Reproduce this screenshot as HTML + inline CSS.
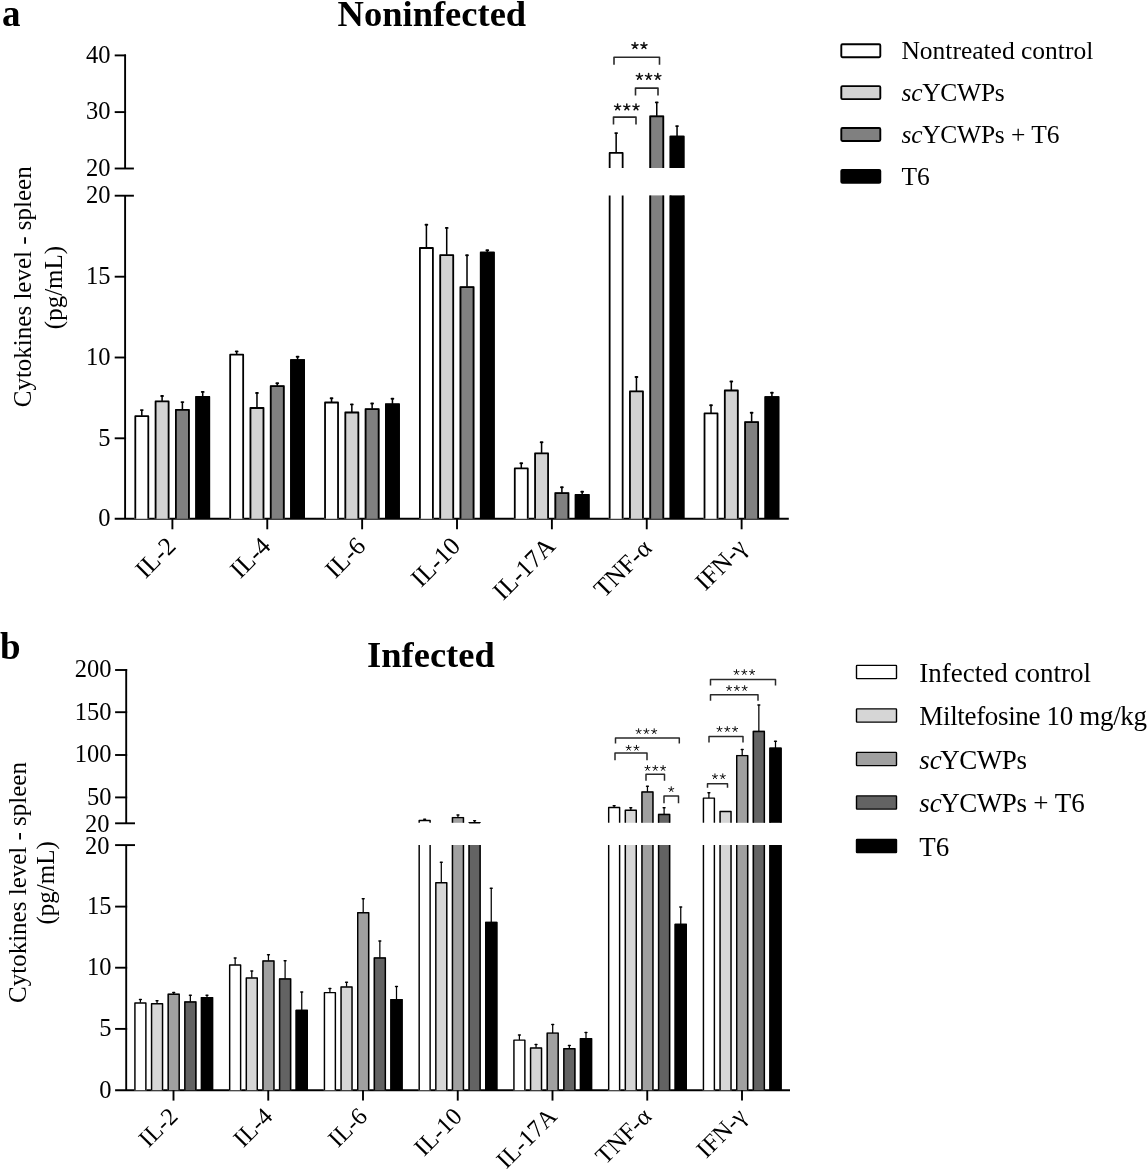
<!DOCTYPE html>
<html><head><meta charset="utf-8"><style>
html,body{margin:0;padding:0;background:#fff;overflow:hidden;}
svg{display:block;filter:grayscale(1);}

</style></head><body>
<svg width="1147" height="1170" viewBox="0 0 1147 1170" font-family='"Liberation Serif", serif'>
<rect width="100%" height="100%" fill="#fff"/>
<text x="2.00" y="25.50" font-size="37" text-anchor="start" font-weight="bold" >a</text>
<text x="431.90" y="25.90" font-size="36.5" text-anchor="middle" font-weight="bold" >Noninfected</text>
<line x1="125.10" y1="54.45" x2="125.10" y2="168.50" stroke="#000" stroke-width="1.9" stroke-linecap="butt"/>
<line x1="125.10" y1="195.70" x2="125.10" y2="518.80" stroke="#000" stroke-width="1.9" stroke-linecap="butt"/>
<line x1="114.70" y1="55.40" x2="126.05" y2="55.40" stroke="#000" stroke-width="1.9" stroke-linecap="butt"/>
<line x1="114.70" y1="112.10" x2="126.05" y2="112.10" stroke="#000" stroke-width="1.9" stroke-linecap="butt"/>
<line x1="114.70" y1="168.50" x2="133.90" y2="168.50" stroke="#000" stroke-width="1.9" stroke-linecap="butt"/>
<line x1="114.70" y1="195.70" x2="133.90" y2="195.70" stroke="#000" stroke-width="1.9" stroke-linecap="butt"/>
<line x1="114.70" y1="276.70" x2="126.05" y2="276.70" stroke="#000" stroke-width="1.9" stroke-linecap="butt"/>
<line x1="114.70" y1="357.50" x2="126.05" y2="357.50" stroke="#000" stroke-width="1.9" stroke-linecap="butt"/>
<line x1="114.70" y1="438.30" x2="126.05" y2="438.30" stroke="#000" stroke-width="1.9" stroke-linecap="butt"/>
<line x1="114.70" y1="518.80" x2="788.80" y2="518.80" stroke="#000" stroke-width="1.9" stroke-linecap="butt"/>
<text x="110.60" y="62.75" font-size="24.5" text-anchor="end" font-weight="normal" >40</text>
<text x="110.60" y="119.45" font-size="24.5" text-anchor="end" font-weight="normal" >30</text>
<text x="110.60" y="175.85" font-size="24.5" text-anchor="end" font-weight="normal" >20</text>
<text x="110.60" y="203.05" font-size="24.5" text-anchor="end" font-weight="normal" >20</text>
<text x="110.60" y="284.05" font-size="24.5" text-anchor="end" font-weight="normal" >15</text>
<text x="110.60" y="364.85" font-size="24.5" text-anchor="end" font-weight="normal" >10</text>
<text x="110.60" y="445.65" font-size="24.5" text-anchor="end" font-weight="normal" >5</text>
<text x="110.60" y="526.15" font-size="24.5" text-anchor="end" font-weight="normal" >0</text>
<rect x="134.40" y="415.30" width="14.80" height="103.50" fill="#ffffff"/>
<path d="M135.30,518.80V416.20H148.30V518.80" fill="none" stroke="#000" stroke-width="1.8" stroke-linejoin="round"/>
<line x1="141.80" y1="415.80" x2="141.80" y2="410.10" stroke="#000" stroke-width="1.53" stroke-linecap="butt"/>
<line x1="140.90" y1="410.10" x2="142.70" y2="410.10" stroke="#000" stroke-width="1.89" stroke-linecap="round"/>
<rect x="154.70" y="400.50" width="14.80" height="118.30" fill="#d3d3d3"/>
<path d="M155.60,518.80V401.40H168.60V518.80" fill="none" stroke="#000" stroke-width="1.8" stroke-linejoin="round"/>
<line x1="162.10" y1="401.00" x2="162.10" y2="396.00" stroke="#000" stroke-width="1.53" stroke-linecap="butt"/>
<line x1="161.20" y1="396.00" x2="163.00" y2="396.00" stroke="#000" stroke-width="1.89" stroke-linecap="round"/>
<rect x="175.00" y="409.00" width="14.80" height="109.80" fill="#808080"/>
<path d="M175.90,518.80V409.90H188.90V518.80" fill="none" stroke="#000" stroke-width="1.8" stroke-linejoin="round"/>
<line x1="182.40" y1="409.50" x2="182.40" y2="402.10" stroke="#000" stroke-width="1.53" stroke-linecap="butt"/>
<line x1="181.50" y1="402.10" x2="183.30" y2="402.10" stroke="#000" stroke-width="1.89" stroke-linecap="round"/>
<rect x="195.30" y="396.10" width="14.80" height="122.70" fill="#000000"/>
<path d="M196.20,518.80V397.00H209.20V518.80" fill="none" stroke="#000" stroke-width="1.8" stroke-linejoin="round"/>
<line x1="202.70" y1="396.60" x2="202.70" y2="391.90" stroke="#000" stroke-width="1.53" stroke-linecap="butt"/>
<line x1="201.80" y1="391.90" x2="203.60" y2="391.90" stroke="#000" stroke-width="1.89" stroke-linecap="round"/>
<line x1="172.40" y1="518.80" x2="172.40" y2="529.30" stroke="#000" stroke-width="1.9" stroke-linecap="butt"/>
<text x="0" y="0" font-size="25.3" text-anchor="end" transform="translate(177.20,547.60) rotate(-45)">IL-2</text>
<rect x="229.27" y="353.80" width="14.80" height="165.00" fill="#ffffff"/>
<path d="M230.17,518.80V354.70H243.17V518.80" fill="none" stroke="#000" stroke-width="1.8" stroke-linejoin="round"/>
<line x1="236.67" y1="354.30" x2="236.67" y2="351.40" stroke="#000" stroke-width="1.53" stroke-linecap="butt"/>
<line x1="235.77" y1="351.40" x2="237.57" y2="351.40" stroke="#000" stroke-width="1.89" stroke-linecap="round"/>
<rect x="249.57" y="407.10" width="14.80" height="111.70" fill="#d3d3d3"/>
<path d="M250.47,518.80V408.00H263.47V518.80" fill="none" stroke="#000" stroke-width="1.8" stroke-linejoin="round"/>
<line x1="256.97" y1="407.60" x2="256.97" y2="393.00" stroke="#000" stroke-width="1.53" stroke-linecap="butt"/>
<line x1="256.07" y1="393.00" x2="257.87" y2="393.00" stroke="#000" stroke-width="1.89" stroke-linecap="round"/>
<rect x="269.87" y="385.30" width="14.80" height="133.50" fill="#808080"/>
<path d="M270.77,518.80V386.20H283.77V518.80" fill="none" stroke="#000" stroke-width="1.8" stroke-linejoin="round"/>
<line x1="277.27" y1="385.80" x2="277.27" y2="383.30" stroke="#000" stroke-width="1.53" stroke-linecap="butt"/>
<line x1="276.37" y1="383.30" x2="278.17" y2="383.30" stroke="#000" stroke-width="1.89" stroke-linecap="round"/>
<rect x="290.17" y="359.20" width="14.80" height="159.60" fill="#000000"/>
<path d="M291.07,518.80V360.10H304.07V518.80" fill="none" stroke="#000" stroke-width="1.8" stroke-linejoin="round"/>
<line x1="297.57" y1="359.70" x2="297.57" y2="356.70" stroke="#000" stroke-width="1.53" stroke-linecap="butt"/>
<line x1="296.67" y1="356.70" x2="298.47" y2="356.70" stroke="#000" stroke-width="1.89" stroke-linecap="round"/>
<line x1="267.27" y1="518.80" x2="267.27" y2="529.30" stroke="#000" stroke-width="1.9" stroke-linecap="butt"/>
<text x="0" y="0" font-size="25.3" text-anchor="end" transform="translate(272.07,547.60) rotate(-45)">IL-4</text>
<rect x="324.14" y="401.60" width="14.80" height="117.20" fill="#ffffff"/>
<path d="M325.04,518.80V402.50H338.04V518.80" fill="none" stroke="#000" stroke-width="1.8" stroke-linejoin="round"/>
<line x1="331.54" y1="402.10" x2="331.54" y2="398.30" stroke="#000" stroke-width="1.53" stroke-linecap="butt"/>
<line x1="330.64" y1="398.30" x2="332.44" y2="398.30" stroke="#000" stroke-width="1.89" stroke-linecap="round"/>
<rect x="344.44" y="411.60" width="14.80" height="107.20" fill="#d3d3d3"/>
<path d="M345.34,518.80V412.50H358.34V518.80" fill="none" stroke="#000" stroke-width="1.8" stroke-linejoin="round"/>
<line x1="351.84" y1="412.10" x2="351.84" y2="404.40" stroke="#000" stroke-width="1.53" stroke-linecap="butt"/>
<line x1="350.94" y1="404.40" x2="352.74" y2="404.40" stroke="#000" stroke-width="1.89" stroke-linecap="round"/>
<rect x="364.74" y="408.30" width="14.80" height="110.50" fill="#808080"/>
<path d="M365.64,518.80V409.20H378.64V518.80" fill="none" stroke="#000" stroke-width="1.8" stroke-linejoin="round"/>
<line x1="372.14" y1="408.80" x2="372.14" y2="403.50" stroke="#000" stroke-width="1.53" stroke-linecap="butt"/>
<line x1="371.24" y1="403.50" x2="373.04" y2="403.50" stroke="#000" stroke-width="1.89" stroke-linecap="round"/>
<rect x="385.04" y="403.40" width="14.80" height="115.40" fill="#000000"/>
<path d="M385.94,518.80V404.30H398.94V518.80" fill="none" stroke="#000" stroke-width="1.8" stroke-linejoin="round"/>
<line x1="392.44" y1="403.90" x2="392.44" y2="398.70" stroke="#000" stroke-width="1.53" stroke-linecap="butt"/>
<line x1="391.54" y1="398.70" x2="393.34" y2="398.70" stroke="#000" stroke-width="1.89" stroke-linecap="round"/>
<line x1="362.14" y1="518.80" x2="362.14" y2="529.30" stroke="#000" stroke-width="1.9" stroke-linecap="butt"/>
<text x="0" y="0" font-size="25.3" text-anchor="end" transform="translate(366.94,547.60) rotate(-45)">IL-6</text>
<rect x="419.01" y="247.10" width="14.80" height="271.70" fill="#ffffff"/>
<path d="M419.91,518.80V248.00H432.91V518.80" fill="none" stroke="#000" stroke-width="1.8" stroke-linejoin="round"/>
<line x1="426.41" y1="247.60" x2="426.41" y2="224.80" stroke="#000" stroke-width="1.53" stroke-linecap="butt"/>
<line x1="425.51" y1="224.80" x2="427.31" y2="224.80" stroke="#000" stroke-width="1.89" stroke-linecap="round"/>
<rect x="439.31" y="254.30" width="14.80" height="264.50" fill="#d3d3d3"/>
<path d="M440.21,518.80V255.20H453.21V518.80" fill="none" stroke="#000" stroke-width="1.8" stroke-linejoin="round"/>
<line x1="446.71" y1="254.80" x2="446.71" y2="227.90" stroke="#000" stroke-width="1.53" stroke-linecap="butt"/>
<line x1="445.81" y1="227.90" x2="447.61" y2="227.90" stroke="#000" stroke-width="1.89" stroke-linecap="round"/>
<rect x="459.61" y="286.30" width="14.80" height="232.50" fill="#808080"/>
<path d="M460.51,518.80V287.20H473.51V518.80" fill="none" stroke="#000" stroke-width="1.8" stroke-linejoin="round"/>
<line x1="467.01" y1="286.80" x2="467.01" y2="255.30" stroke="#000" stroke-width="1.53" stroke-linecap="butt"/>
<line x1="466.11" y1="255.30" x2="467.91" y2="255.30" stroke="#000" stroke-width="1.89" stroke-linecap="round"/>
<rect x="479.91" y="251.70" width="14.80" height="267.10" fill="#000000"/>
<path d="M480.81,518.80V252.60H493.81V518.80" fill="none" stroke="#000" stroke-width="1.8" stroke-linejoin="round"/>
<line x1="487.31" y1="252.20" x2="487.31" y2="250.30" stroke="#000" stroke-width="1.53" stroke-linecap="butt"/>
<line x1="486.41" y1="250.30" x2="488.21" y2="250.30" stroke="#000" stroke-width="1.89" stroke-linecap="round"/>
<line x1="457.01" y1="518.80" x2="457.01" y2="529.30" stroke="#000" stroke-width="1.9" stroke-linecap="butt"/>
<text x="0" y="0" font-size="25.3" text-anchor="end" transform="translate(461.81,547.60) rotate(-45)">IL-10</text>
<rect x="513.88" y="467.50" width="14.80" height="51.30" fill="#ffffff"/>
<path d="M514.78,518.80V468.40H527.78V518.80" fill="none" stroke="#000" stroke-width="1.8" stroke-linejoin="round"/>
<line x1="521.28" y1="468.00" x2="521.28" y2="463.20" stroke="#000" stroke-width="1.53" stroke-linecap="butt"/>
<line x1="520.38" y1="463.20" x2="522.18" y2="463.20" stroke="#000" stroke-width="1.89" stroke-linecap="round"/>
<rect x="534.18" y="452.40" width="14.80" height="66.40" fill="#d3d3d3"/>
<path d="M535.08,518.80V453.30H548.08V518.80" fill="none" stroke="#000" stroke-width="1.8" stroke-linejoin="round"/>
<line x1="541.58" y1="452.90" x2="541.58" y2="442.20" stroke="#000" stroke-width="1.53" stroke-linecap="butt"/>
<line x1="540.68" y1="442.20" x2="542.48" y2="442.20" stroke="#000" stroke-width="1.89" stroke-linecap="round"/>
<rect x="554.48" y="492.20" width="14.80" height="26.60" fill="#808080"/>
<path d="M555.38,518.80V493.10H568.38V518.80" fill="none" stroke="#000" stroke-width="1.8" stroke-linejoin="round"/>
<line x1="561.88" y1="492.70" x2="561.88" y2="487.30" stroke="#000" stroke-width="1.53" stroke-linecap="butt"/>
<line x1="560.98" y1="487.30" x2="562.78" y2="487.30" stroke="#000" stroke-width="1.89" stroke-linecap="round"/>
<rect x="574.78" y="494.10" width="14.80" height="24.70" fill="#000000"/>
<path d="M575.68,518.80V495.00H588.68V518.80" fill="none" stroke="#000" stroke-width="1.8" stroke-linejoin="round"/>
<line x1="582.18" y1="494.60" x2="582.18" y2="491.70" stroke="#000" stroke-width="1.53" stroke-linecap="butt"/>
<line x1="581.28" y1="491.70" x2="583.08" y2="491.70" stroke="#000" stroke-width="1.89" stroke-linecap="round"/>
<line x1="551.88" y1="518.80" x2="551.88" y2="529.30" stroke="#000" stroke-width="1.9" stroke-linecap="butt"/>
<text x="0" y="0" font-size="25.3" text-anchor="end" transform="translate(556.68,547.60) rotate(-45)">IL-17A</text>
<rect x="608.75" y="152.00" width="14.80" height="16.00" fill="#ffffff"/>
<path d="M609.65,168.00V152.90H622.65V168.00" fill="none" stroke="#000" stroke-width="1.8" stroke-linejoin="round"/>
<line x1="616.15" y1="152.50" x2="616.15" y2="133.10" stroke="#000" stroke-width="1.53" stroke-linecap="butt"/>
<line x1="615.25" y1="133.10" x2="617.05" y2="133.10" stroke="#000" stroke-width="1.89" stroke-linecap="round"/>
<rect x="608.75" y="195.40" width="14.80" height="323.40" fill="#ffffff"/>
<path d="M609.65,195.40V518.80M622.65,195.40V518.80" fill="none" stroke="#000" stroke-width="1.8" stroke-linejoin="round"/>
<rect x="629.05" y="390.50" width="14.80" height="128.30" fill="#d3d3d3"/>
<path d="M629.95,518.80V391.40H642.95V518.80" fill="none" stroke="#000" stroke-width="1.8" stroke-linejoin="round"/>
<line x1="636.45" y1="391.00" x2="636.45" y2="377.00" stroke="#000" stroke-width="1.53" stroke-linecap="butt"/>
<line x1="635.55" y1="377.00" x2="637.35" y2="377.00" stroke="#000" stroke-width="1.89" stroke-linecap="round"/>
<rect x="649.35" y="115.40" width="14.80" height="52.60" fill="#808080"/>
<path d="M650.25,168.00V116.30H663.25V168.00" fill="none" stroke="#000" stroke-width="1.8" stroke-linejoin="round"/>
<line x1="656.75" y1="115.90" x2="656.75" y2="102.40" stroke="#000" stroke-width="1.53" stroke-linecap="butt"/>
<line x1="655.85" y1="102.40" x2="657.65" y2="102.40" stroke="#000" stroke-width="1.89" stroke-linecap="round"/>
<rect x="649.35" y="195.40" width="14.80" height="323.40" fill="#808080"/>
<path d="M650.25,195.40V518.80M663.25,195.40V518.80" fill="none" stroke="#000" stroke-width="1.8" stroke-linejoin="round"/>
<rect x="669.65" y="135.70" width="14.80" height="32.30" fill="#000000"/>
<path d="M670.55,168.00V136.60H683.55V168.00" fill="none" stroke="#000" stroke-width="1.8" stroke-linejoin="round"/>
<line x1="677.05" y1="136.20" x2="677.05" y2="126.10" stroke="#000" stroke-width="1.53" stroke-linecap="butt"/>
<line x1="676.15" y1="126.10" x2="677.95" y2="126.10" stroke="#000" stroke-width="1.89" stroke-linecap="round"/>
<rect x="669.65" y="195.40" width="14.80" height="323.40" fill="#000000"/>
<path d="M670.55,195.40V518.80M683.55,195.40V518.80" fill="none" stroke="#000" stroke-width="1.8" stroke-linejoin="round"/>
<line x1="646.75" y1="518.80" x2="646.75" y2="529.30" stroke="#000" stroke-width="1.9" stroke-linecap="butt"/>
<text x="0" y="0" font-size="25.3" text-anchor="end" transform="translate(653.05,549.60) rotate(-45)">TNF-α</text>
<rect x="703.62" y="412.50" width="14.80" height="106.30" fill="#ffffff"/>
<path d="M704.52,518.80V413.40H717.52V518.80" fill="none" stroke="#000" stroke-width="1.8" stroke-linejoin="round"/>
<line x1="711.02" y1="413.00" x2="711.02" y2="405.30" stroke="#000" stroke-width="1.53" stroke-linecap="butt"/>
<line x1="710.12" y1="405.30" x2="711.92" y2="405.30" stroke="#000" stroke-width="1.89" stroke-linecap="round"/>
<rect x="723.92" y="389.60" width="14.80" height="129.20" fill="#d3d3d3"/>
<path d="M724.82,518.80V390.50H737.82V518.80" fill="none" stroke="#000" stroke-width="1.8" stroke-linejoin="round"/>
<line x1="731.32" y1="390.10" x2="731.32" y2="381.50" stroke="#000" stroke-width="1.53" stroke-linecap="butt"/>
<line x1="730.42" y1="381.50" x2="732.22" y2="381.50" stroke="#000" stroke-width="1.89" stroke-linecap="round"/>
<rect x="744.22" y="421.30" width="14.80" height="97.50" fill="#808080"/>
<path d="M745.12,518.80V422.20H758.12V518.80" fill="none" stroke="#000" stroke-width="1.8" stroke-linejoin="round"/>
<line x1="751.62" y1="421.80" x2="751.62" y2="412.70" stroke="#000" stroke-width="1.53" stroke-linecap="butt"/>
<line x1="750.72" y1="412.70" x2="752.52" y2="412.70" stroke="#000" stroke-width="1.89" stroke-linecap="round"/>
<rect x="764.52" y="396.20" width="14.80" height="122.60" fill="#000000"/>
<path d="M765.42,518.80V397.10H778.42V518.80" fill="none" stroke="#000" stroke-width="1.8" stroke-linejoin="round"/>
<line x1="771.92" y1="396.70" x2="771.92" y2="392.80" stroke="#000" stroke-width="1.53" stroke-linecap="butt"/>
<line x1="771.02" y1="392.80" x2="772.82" y2="392.80" stroke="#000" stroke-width="1.89" stroke-linecap="round"/>
<line x1="741.62" y1="518.80" x2="741.62" y2="529.30" stroke="#000" stroke-width="1.9" stroke-linecap="butt"/>
<text x="0" y="0" font-size="25.3" text-anchor="end" transform="translate(747.92,549.10) rotate(-45)">IFN-γ</text>
<path d="M614.00,64.70V57.20H659.50V64.70" fill="none" stroke="#2a2a2a" stroke-width="1.6" stroke-linejoin="round"/>
<path d="M634.95,45.75L634.95,42.55M634.95,45.75L637.99,44.76M634.95,45.75L636.83,48.34M634.95,45.75L633.07,48.34M634.95,45.75L631.91,44.76" stroke="#111" stroke-width="1.5" stroke-linecap="round" fill="none"/>
<path d="M643.95,45.75L643.95,42.55M643.95,45.75L646.99,44.76M643.95,45.75L645.83,48.34M643.95,45.75L642.07,48.34M643.95,45.75L640.91,44.76" stroke="#111" stroke-width="1.5" stroke-linecap="round" fill="none"/>
<path d="M635.50,95.60V88.10H658.00V95.60" fill="none" stroke="#2a2a2a" stroke-width="1.6" stroke-linejoin="round"/>
<path d="M639.40,76.60L639.40,73.40M639.40,76.60L642.44,75.61M639.40,76.60L641.28,79.19M639.40,76.60L637.52,79.19M639.40,76.60L636.36,75.61" stroke="#111" stroke-width="1.5" stroke-linecap="round" fill="none"/>
<path d="M648.60,76.60L648.60,73.40M648.60,76.60L651.64,75.61M648.60,76.60L650.48,79.19M648.60,76.60L646.72,79.19M648.60,76.60L645.56,75.61" stroke="#111" stroke-width="1.5" stroke-linecap="round" fill="none"/>
<path d="M657.80,76.60L657.80,73.40M657.80,76.60L660.84,75.61M657.80,76.60L659.68,79.19M657.80,76.60L655.92,79.19M657.80,76.60L654.76,75.61" stroke="#111" stroke-width="1.5" stroke-linecap="round" fill="none"/>
<path d="M613.50,124.60V117.10H636.00V124.60" fill="none" stroke="#2a2a2a" stroke-width="1.6" stroke-linejoin="round"/>
<path d="M617.60,107.10L617.60,103.90M617.60,107.10L620.64,106.11M617.60,107.10L619.48,109.69M617.60,107.10L615.72,109.69M617.60,107.10L614.56,106.11" stroke="#111" stroke-width="1.5" stroke-linecap="round" fill="none"/>
<path d="M626.80,107.10L626.80,103.90M626.80,107.10L629.84,106.11M626.80,107.10L628.68,109.69M626.80,107.10L624.92,109.69M626.80,107.10L623.76,106.11" stroke="#111" stroke-width="1.5" stroke-linecap="round" fill="none"/>
<path d="M636.00,107.10L636.00,103.90M636.00,107.10L639.04,106.11M636.00,107.10L637.88,109.69M636.00,107.10L634.12,109.69M636.00,107.10L632.96,106.11" stroke="#111" stroke-width="1.5" stroke-linecap="round" fill="none"/>
<text font-size="25" text-anchor="middle" transform="translate(31.3,286.8) rotate(-90)">Cytokines level - spleen</text>
<text font-size="25" text-anchor="middle" transform="translate(62.3,287.5) rotate(-90)">(pg/mL)</text>
<rect x="841.3" y="44.30" width="39" height="13" rx="1.2" fill="#ffffff" stroke="#000" stroke-width="1.9"/>
<text x="901.40" y="59.30" font-size="25.5" text-anchor="start" font-weight="normal" >Nontreated control</text>
<rect x="841.3" y="86.15" width="39" height="13" rx="1.2" fill="#d3d3d3" stroke="#000" stroke-width="1.9"/>
<text x="901.40" y="101.15" font-size="25.5" text-anchor="start" font-weight="normal" ><tspan font-style="italic">sc</tspan><tspan dx="-0.5" letter-spacing="-0.25">YCWPs</tspan></text>
<rect x="841.3" y="128.00" width="39" height="13" rx="1.2" fill="#808080" stroke="#000" stroke-width="1.9"/>
<text x="901.40" y="143.00" font-size="25.5" text-anchor="start" font-weight="normal" ><tspan font-style="italic">sc</tspan><tspan dx="-0.5" letter-spacing="-0.25">YCWPs</tspan> + T6</text>
<rect x="841.3" y="169.85" width="39" height="13" rx="1.2" fill="#000000" stroke="#000" stroke-width="1.9"/>
<text x="901.40" y="184.85" font-size="25.5" text-anchor="start" font-weight="normal" >T6</text>
<text x="0.00" y="658.50" font-size="37" text-anchor="start" font-weight="bold" >b</text>
<text x="430.90" y="666.60" font-size="36.5" text-anchor="middle" font-weight="bold" >Infected</text>
<line x1="126.20" y1="669.05" x2="126.20" y2="823.30" stroke="#000" stroke-width="1.9" stroke-linecap="butt"/>
<line x1="126.20" y1="845.10" x2="126.20" y2="1090.30" stroke="#000" stroke-width="1.9" stroke-linecap="butt"/>
<line x1="115.10" y1="670.00" x2="127.15" y2="670.00" stroke="#000" stroke-width="1.9" stroke-linecap="butt"/>
<line x1="115.10" y1="712.20" x2="127.15" y2="712.20" stroke="#000" stroke-width="1.9" stroke-linecap="butt"/>
<line x1="115.10" y1="755.00" x2="127.15" y2="755.00" stroke="#000" stroke-width="1.9" stroke-linecap="butt"/>
<line x1="115.10" y1="797.40" x2="127.15" y2="797.40" stroke="#000" stroke-width="1.9" stroke-linecap="butt"/>
<line x1="115.10" y1="823.30" x2="135.00" y2="823.30" stroke="#000" stroke-width="1.9" stroke-linecap="butt"/>
<line x1="115.10" y1="845.10" x2="135.00" y2="845.10" stroke="#000" stroke-width="1.9" stroke-linecap="butt"/>
<line x1="115.10" y1="906.60" x2="127.15" y2="906.60" stroke="#000" stroke-width="1.9" stroke-linecap="butt"/>
<line x1="115.10" y1="967.70" x2="127.15" y2="967.70" stroke="#000" stroke-width="1.9" stroke-linecap="butt"/>
<line x1="115.10" y1="1028.90" x2="127.15" y2="1028.90" stroke="#000" stroke-width="1.9" stroke-linecap="butt"/>
<line x1="115.10" y1="1090.30" x2="790.00" y2="1090.30" stroke="#000" stroke-width="1.9" stroke-linecap="butt"/>
<text x="111.50" y="677.35" font-size="24.5" text-anchor="end" font-weight="normal" >200</text>
<text x="111.50" y="719.55" font-size="24.5" text-anchor="end" font-weight="normal" >150</text>
<text x="111.50" y="762.35" font-size="24.5" text-anchor="end" font-weight="normal" >100</text>
<text x="111.50" y="804.75" font-size="24.5" text-anchor="end" font-weight="normal" >50</text>
<text x="111.50" y="913.95" font-size="24.5" text-anchor="end" font-weight="normal" >15</text>
<text x="111.50" y="975.05" font-size="24.5" text-anchor="end" font-weight="normal" >10</text>
<text x="111.50" y="1036.25" font-size="24.5" text-anchor="end" font-weight="normal" >5</text>
<text x="111.50" y="1097.65" font-size="24.5" text-anchor="end" font-weight="normal" >0</text>
<text x="109.60" y="831.85" font-size="24.5" text-anchor="end" font-weight="normal" >20</text>
<text x="109.60" y="853.65" font-size="24.5" text-anchor="end" font-weight="normal" >20</text>
<rect x="134.20" y="1002.20" width="12.40" height="88.10" fill="#ffffff"/>
<path d="M134.92,1090.30V1002.93H145.88V1090.30" fill="none" stroke="#000" stroke-width="1.45" stroke-linejoin="round"/>
<line x1="140.40" y1="1002.70" x2="140.40" y2="999.40" stroke="#000" stroke-width="1.25" stroke-linecap="butt"/>
<line x1="139.50" y1="999.40" x2="141.30" y2="999.40" stroke="#000" stroke-width="1.52" stroke-linecap="round"/>
<rect x="150.85" y="1003.10" width="12.40" height="87.20" fill="#d6d6d6"/>
<path d="M151.57,1090.30V1003.83H162.53V1090.30" fill="none" stroke="#000" stroke-width="1.45" stroke-linejoin="round"/>
<line x1="157.05" y1="1003.60" x2="157.05" y2="1000.70" stroke="#000" stroke-width="1.25" stroke-linecap="butt"/>
<line x1="156.15" y1="1000.70" x2="157.95" y2="1000.70" stroke="#000" stroke-width="1.52" stroke-linecap="round"/>
<rect x="167.50" y="993.50" width="12.40" height="96.80" fill="#a0a0a0"/>
<path d="M168.22,1090.30V994.23H179.18V1090.30" fill="none" stroke="#000" stroke-width="1.45" stroke-linejoin="round"/>
<line x1="173.70" y1="994.00" x2="173.70" y2="992.60" stroke="#000" stroke-width="1.25" stroke-linecap="butt"/>
<line x1="172.80" y1="992.60" x2="174.60" y2="992.60" stroke="#000" stroke-width="1.52" stroke-linecap="round"/>
<rect x="184.15" y="1001.20" width="12.40" height="89.10" fill="#636363"/>
<path d="M184.87,1090.30V1001.93H195.82V1090.30" fill="none" stroke="#000" stroke-width="1.45" stroke-linejoin="round"/>
<line x1="190.35" y1="1001.70" x2="190.35" y2="995.30" stroke="#000" stroke-width="1.25" stroke-linecap="butt"/>
<line x1="189.45" y1="995.30" x2="191.25" y2="995.30" stroke="#000" stroke-width="1.52" stroke-linecap="round"/>
<rect x="200.80" y="997.00" width="12.40" height="93.30" fill="#000000"/>
<path d="M201.52,1090.30V997.73H212.47V1090.30" fill="none" stroke="#000" stroke-width="1.45" stroke-linejoin="round"/>
<line x1="207.00" y1="997.50" x2="207.00" y2="995.30" stroke="#000" stroke-width="1.25" stroke-linecap="butt"/>
<line x1="206.10" y1="995.30" x2="207.90" y2="995.30" stroke="#000" stroke-width="1.52" stroke-linecap="round"/>
<line x1="173.50" y1="1090.30" x2="173.50" y2="1100.60" stroke="#000" stroke-width="1.9" stroke-linecap="butt"/>
<text x="0" y="0" font-size="24.5" text-anchor="end" transform="translate(179.20,1117.80) rotate(-45)">IL-2</text>
<rect x="228.95" y="964.20" width="12.40" height="126.10" fill="#ffffff"/>
<path d="M229.67,1090.30V964.93H240.62V1090.30" fill="none" stroke="#000" stroke-width="1.45" stroke-linejoin="round"/>
<line x1="235.15" y1="964.70" x2="235.15" y2="957.90" stroke="#000" stroke-width="1.25" stroke-linecap="butt"/>
<line x1="234.25" y1="957.90" x2="236.05" y2="957.90" stroke="#000" stroke-width="1.52" stroke-linecap="round"/>
<rect x="245.60" y="977.30" width="12.40" height="113.00" fill="#d6d6d6"/>
<path d="M246.32,1090.30V978.02H257.27V1090.30" fill="none" stroke="#000" stroke-width="1.45" stroke-linejoin="round"/>
<line x1="251.80" y1="977.80" x2="251.80" y2="970.90" stroke="#000" stroke-width="1.25" stroke-linecap="butt"/>
<line x1="250.90" y1="970.90" x2="252.70" y2="970.90" stroke="#000" stroke-width="1.52" stroke-linecap="round"/>
<rect x="262.25" y="960.20" width="12.40" height="130.10" fill="#a0a0a0"/>
<path d="M262.98,1090.30V960.93H273.92V1090.30" fill="none" stroke="#000" stroke-width="1.45" stroke-linejoin="round"/>
<line x1="268.45" y1="960.70" x2="268.45" y2="954.80" stroke="#000" stroke-width="1.25" stroke-linecap="butt"/>
<line x1="267.55" y1="954.80" x2="269.35" y2="954.80" stroke="#000" stroke-width="1.52" stroke-linecap="round"/>
<rect x="278.90" y="978.20" width="12.40" height="112.10" fill="#636363"/>
<path d="M279.62,1090.30V978.93H290.57V1090.30" fill="none" stroke="#000" stroke-width="1.45" stroke-linejoin="round"/>
<line x1="285.10" y1="978.70" x2="285.10" y2="960.70" stroke="#000" stroke-width="1.25" stroke-linecap="butt"/>
<line x1="284.20" y1="960.70" x2="286.00" y2="960.70" stroke="#000" stroke-width="1.52" stroke-linecap="round"/>
<rect x="295.55" y="1009.70" width="12.40" height="80.60" fill="#000000"/>
<path d="M296.27,1090.30V1010.43H307.22V1090.30" fill="none" stroke="#000" stroke-width="1.45" stroke-linejoin="round"/>
<line x1="301.75" y1="1010.20" x2="301.75" y2="992.10" stroke="#000" stroke-width="1.25" stroke-linecap="butt"/>
<line x1="300.85" y1="992.10" x2="302.65" y2="992.10" stroke="#000" stroke-width="1.52" stroke-linecap="round"/>
<line x1="268.25" y1="1090.30" x2="268.25" y2="1100.60" stroke="#000" stroke-width="1.9" stroke-linecap="butt"/>
<text x="0" y="0" font-size="24.5" text-anchor="end" transform="translate(273.95,1117.80) rotate(-45)">IL-4</text>
<rect x="323.70" y="991.90" width="12.40" height="98.40" fill="#ffffff"/>
<path d="M324.43,1090.30V992.62H335.37V1090.30" fill="none" stroke="#000" stroke-width="1.45" stroke-linejoin="round"/>
<line x1="329.90" y1="992.40" x2="329.90" y2="988.50" stroke="#000" stroke-width="1.25" stroke-linecap="butt"/>
<line x1="329.00" y1="988.50" x2="330.80" y2="988.50" stroke="#000" stroke-width="1.52" stroke-linecap="round"/>
<rect x="340.35" y="986.20" width="12.40" height="104.10" fill="#d6d6d6"/>
<path d="M341.07,1090.30V986.93H352.02V1090.30" fill="none" stroke="#000" stroke-width="1.45" stroke-linejoin="round"/>
<line x1="346.55" y1="986.70" x2="346.55" y2="982.30" stroke="#000" stroke-width="1.25" stroke-linecap="butt"/>
<line x1="345.65" y1="982.30" x2="347.45" y2="982.30" stroke="#000" stroke-width="1.52" stroke-linecap="round"/>
<rect x="357.00" y="912.10" width="12.40" height="178.20" fill="#a0a0a0"/>
<path d="M357.73,1090.30V912.83H368.67V1090.30" fill="none" stroke="#000" stroke-width="1.45" stroke-linejoin="round"/>
<line x1="363.20" y1="912.60" x2="363.20" y2="898.70" stroke="#000" stroke-width="1.25" stroke-linecap="butt"/>
<line x1="362.30" y1="898.70" x2="364.10" y2="898.70" stroke="#000" stroke-width="1.52" stroke-linecap="round"/>
<rect x="373.65" y="957.30" width="12.40" height="133.00" fill="#636363"/>
<path d="M374.38,1090.30V958.02H385.32V1090.30" fill="none" stroke="#000" stroke-width="1.45" stroke-linejoin="round"/>
<line x1="379.85" y1="957.80" x2="379.85" y2="941.00" stroke="#000" stroke-width="1.25" stroke-linecap="butt"/>
<line x1="378.95" y1="941.00" x2="380.75" y2="941.00" stroke="#000" stroke-width="1.52" stroke-linecap="round"/>
<rect x="390.30" y="999.00" width="12.40" height="91.30" fill="#000000"/>
<path d="M391.02,1090.30V999.73H401.97V1090.30" fill="none" stroke="#000" stroke-width="1.45" stroke-linejoin="round"/>
<line x1="396.50" y1="999.50" x2="396.50" y2="986.40" stroke="#000" stroke-width="1.25" stroke-linecap="butt"/>
<line x1="395.60" y1="986.40" x2="397.40" y2="986.40" stroke="#000" stroke-width="1.52" stroke-linecap="round"/>
<line x1="363.00" y1="1090.30" x2="363.00" y2="1100.60" stroke="#000" stroke-width="1.9" stroke-linecap="butt"/>
<text x="0" y="0" font-size="24.5" text-anchor="end" transform="translate(368.70,1117.80) rotate(-45)">IL-6</text>
<rect x="418.45" y="819.80" width="12.40" height="3.00" fill="#ffffff"/>
<path d="M419.18,822.80V820.52H430.12V822.80" fill="none" stroke="#000" stroke-width="1.45" stroke-linejoin="round"/>
<line x1="424.65" y1="820.30" x2="424.65" y2="819.30" stroke="#000" stroke-width="1.25" stroke-linecap="butt"/>
<line x1="423.75" y1="819.30" x2="425.55" y2="819.30" stroke="#000" stroke-width="1.52" stroke-linecap="round"/>
<rect x="418.45" y="845.00" width="12.40" height="245.30" fill="#ffffff"/>
<path d="M419.18,845.00V1090.30M430.12,845.00V1090.30" fill="none" stroke="#000" stroke-width="1.45" stroke-linejoin="round"/>
<rect x="435.10" y="882.10" width="12.40" height="208.20" fill="#d6d6d6"/>
<path d="M435.82,1090.30V882.83H446.77V1090.30" fill="none" stroke="#000" stroke-width="1.45" stroke-linejoin="round"/>
<line x1="441.30" y1="882.60" x2="441.30" y2="862.20" stroke="#000" stroke-width="1.25" stroke-linecap="butt"/>
<line x1="440.40" y1="862.20" x2="442.20" y2="862.20" stroke="#000" stroke-width="1.52" stroke-linecap="round"/>
<rect x="451.75" y="816.90" width="12.40" height="5.90" fill="#a0a0a0"/>
<path d="M452.48,822.80V817.62H463.42V822.80" fill="none" stroke="#000" stroke-width="1.45" stroke-linejoin="round"/>
<line x1="457.95" y1="817.40" x2="457.95" y2="815.10" stroke="#000" stroke-width="1.25" stroke-linecap="butt"/>
<line x1="457.05" y1="815.10" x2="458.85" y2="815.10" stroke="#000" stroke-width="1.52" stroke-linecap="round"/>
<rect x="451.75" y="845.00" width="12.40" height="245.30" fill="#a0a0a0"/>
<path d="M452.48,845.00V1090.30M463.42,845.00V1090.30" fill="none" stroke="#000" stroke-width="1.45" stroke-linejoin="round"/>
<rect x="468.40" y="822.00" width="12.40" height="0.80" fill="#636363"/>
<path d="M469.12,822.80V822.73H480.07V822.80" fill="none" stroke="#000" stroke-width="1.45" stroke-linejoin="round"/>
<line x1="474.60" y1="822.50" x2="474.60" y2="820.80" stroke="#000" stroke-width="1.25" stroke-linecap="butt"/>
<line x1="473.70" y1="820.80" x2="475.50" y2="820.80" stroke="#000" stroke-width="1.52" stroke-linecap="round"/>
<rect x="468.40" y="845.00" width="12.40" height="245.30" fill="#636363"/>
<path d="M469.12,845.00V1090.30M480.07,845.00V1090.30" fill="none" stroke="#000" stroke-width="1.45" stroke-linejoin="round"/>
<rect x="485.05" y="921.80" width="12.40" height="168.50" fill="#000000"/>
<path d="M485.77,1090.30V922.52H496.72V1090.30" fill="none" stroke="#000" stroke-width="1.45" stroke-linejoin="round"/>
<line x1="491.25" y1="922.30" x2="491.25" y2="888.20" stroke="#000" stroke-width="1.25" stroke-linecap="butt"/>
<line x1="490.35" y1="888.20" x2="492.15" y2="888.20" stroke="#000" stroke-width="1.52" stroke-linecap="round"/>
<line x1="457.75" y1="1090.30" x2="457.75" y2="1100.60" stroke="#000" stroke-width="1.9" stroke-linecap="butt"/>
<text x="0" y="0" font-size="24.5" text-anchor="end" transform="translate(463.45,1117.80) rotate(-45)">IL-10</text>
<rect x="513.20" y="1039.40" width="12.40" height="50.90" fill="#ffffff"/>
<path d="M513.93,1090.30V1040.12H524.88V1090.30" fill="none" stroke="#000" stroke-width="1.45" stroke-linejoin="round"/>
<line x1="519.40" y1="1039.90" x2="519.40" y2="1034.90" stroke="#000" stroke-width="1.25" stroke-linecap="butt"/>
<line x1="518.50" y1="1034.90" x2="520.30" y2="1034.90" stroke="#000" stroke-width="1.52" stroke-linecap="round"/>
<rect x="529.85" y="1047.30" width="12.40" height="43.00" fill="#d6d6d6"/>
<path d="M530.58,1090.30V1048.02H541.52V1090.30" fill="none" stroke="#000" stroke-width="1.45" stroke-linejoin="round"/>
<line x1="536.05" y1="1047.80" x2="536.05" y2="1044.50" stroke="#000" stroke-width="1.25" stroke-linecap="butt"/>
<line x1="535.15" y1="1044.50" x2="536.95" y2="1044.50" stroke="#000" stroke-width="1.52" stroke-linecap="round"/>
<rect x="546.50" y="1032.40" width="12.40" height="57.90" fill="#a0a0a0"/>
<path d="M547.23,1090.30V1033.12H558.17V1090.30" fill="none" stroke="#000" stroke-width="1.45" stroke-linejoin="round"/>
<line x1="552.70" y1="1032.90" x2="552.70" y2="1024.40" stroke="#000" stroke-width="1.25" stroke-linecap="butt"/>
<line x1="551.80" y1="1024.40" x2="553.60" y2="1024.40" stroke="#000" stroke-width="1.52" stroke-linecap="round"/>
<rect x="563.15" y="1048.10" width="12.40" height="42.20" fill="#636363"/>
<path d="M563.88,1090.30V1048.82H574.83V1090.30" fill="none" stroke="#000" stroke-width="1.45" stroke-linejoin="round"/>
<line x1="569.35" y1="1048.60" x2="569.35" y2="1045.50" stroke="#000" stroke-width="1.25" stroke-linecap="butt"/>
<line x1="568.45" y1="1045.50" x2="570.25" y2="1045.50" stroke="#000" stroke-width="1.52" stroke-linecap="round"/>
<rect x="579.80" y="1038.10" width="12.40" height="52.20" fill="#000000"/>
<path d="M580.53,1090.30V1038.82H591.48V1090.30" fill="none" stroke="#000" stroke-width="1.45" stroke-linejoin="round"/>
<line x1="586.00" y1="1038.60" x2="586.00" y2="1032.40" stroke="#000" stroke-width="1.25" stroke-linecap="butt"/>
<line x1="585.10" y1="1032.40" x2="586.90" y2="1032.40" stroke="#000" stroke-width="1.52" stroke-linecap="round"/>
<line x1="552.50" y1="1090.30" x2="552.50" y2="1100.60" stroke="#000" stroke-width="1.9" stroke-linecap="butt"/>
<text x="0" y="0" font-size="24.5" text-anchor="end" transform="translate(558.20,1117.80) rotate(-45)">IL-17A</text>
<rect x="607.95" y="806.80" width="12.40" height="16.00" fill="#ffffff"/>
<path d="M608.68,822.80V807.52H619.62V822.80" fill="none" stroke="#000" stroke-width="1.45" stroke-linejoin="round"/>
<line x1="614.15" y1="807.30" x2="614.15" y2="805.80" stroke="#000" stroke-width="1.25" stroke-linecap="butt"/>
<line x1="613.25" y1="805.80" x2="615.05" y2="805.80" stroke="#000" stroke-width="1.52" stroke-linecap="round"/>
<rect x="607.95" y="845.00" width="12.40" height="245.30" fill="#ffffff"/>
<path d="M608.68,845.00V1090.30M619.62,845.00V1090.30" fill="none" stroke="#000" stroke-width="1.45" stroke-linejoin="round"/>
<rect x="624.60" y="809.60" width="12.40" height="13.20" fill="#d6d6d6"/>
<path d="M625.33,822.80V810.33H636.27V822.80" fill="none" stroke="#000" stroke-width="1.45" stroke-linejoin="round"/>
<line x1="630.80" y1="810.10" x2="630.80" y2="807.70" stroke="#000" stroke-width="1.25" stroke-linecap="butt"/>
<line x1="629.90" y1="807.70" x2="631.70" y2="807.70" stroke="#000" stroke-width="1.52" stroke-linecap="round"/>
<rect x="624.60" y="845.00" width="12.40" height="245.30" fill="#d6d6d6"/>
<path d="M625.33,845.00V1090.30M636.27,845.00V1090.30" fill="none" stroke="#000" stroke-width="1.45" stroke-linejoin="round"/>
<rect x="641.25" y="791.30" width="12.40" height="31.50" fill="#a0a0a0"/>
<path d="M641.98,822.80V792.02H652.92V822.80" fill="none" stroke="#000" stroke-width="1.45" stroke-linejoin="round"/>
<line x1="647.45" y1="791.80" x2="647.45" y2="786.20" stroke="#000" stroke-width="1.25" stroke-linecap="butt"/>
<line x1="646.55" y1="786.20" x2="648.35" y2="786.20" stroke="#000" stroke-width="1.52" stroke-linecap="round"/>
<rect x="641.25" y="845.00" width="12.40" height="245.30" fill="#a0a0a0"/>
<path d="M641.98,845.00V1090.30M652.92,845.00V1090.30" fill="none" stroke="#000" stroke-width="1.45" stroke-linejoin="round"/>
<rect x="657.90" y="813.80" width="12.40" height="9.00" fill="#636363"/>
<path d="M658.63,822.80V814.52H669.58V822.80" fill="none" stroke="#000" stroke-width="1.45" stroke-linejoin="round"/>
<line x1="664.10" y1="814.30" x2="664.10" y2="807.70" stroke="#000" stroke-width="1.25" stroke-linecap="butt"/>
<line x1="663.20" y1="807.70" x2="665.00" y2="807.70" stroke="#000" stroke-width="1.52" stroke-linecap="round"/>
<rect x="657.90" y="845.00" width="12.40" height="245.30" fill="#636363"/>
<path d="M658.63,845.00V1090.30M669.58,845.00V1090.30" fill="none" stroke="#000" stroke-width="1.45" stroke-linejoin="round"/>
<rect x="674.55" y="923.70" width="12.40" height="166.60" fill="#000000"/>
<path d="M675.28,1090.30V924.43H686.23V1090.30" fill="none" stroke="#000" stroke-width="1.45" stroke-linejoin="round"/>
<line x1="680.75" y1="924.20" x2="680.75" y2="907.00" stroke="#000" stroke-width="1.25" stroke-linecap="butt"/>
<line x1="679.85" y1="907.00" x2="681.65" y2="907.00" stroke="#000" stroke-width="1.52" stroke-linecap="round"/>
<line x1="647.25" y1="1090.30" x2="647.25" y2="1100.60" stroke="#000" stroke-width="1.9" stroke-linecap="butt"/>
<text x="0" y="0" font-size="24.5" text-anchor="end" transform="translate(652.95,1117.80) rotate(-45)">TNF-α</text>
<rect x="702.70" y="797.40" width="12.40" height="25.40" fill="#ffffff"/>
<path d="M703.43,822.80V798.12H714.38V822.80" fill="none" stroke="#000" stroke-width="1.45" stroke-linejoin="round"/>
<line x1="708.90" y1="797.90" x2="708.90" y2="792.80" stroke="#000" stroke-width="1.25" stroke-linecap="butt"/>
<line x1="708.00" y1="792.80" x2="709.80" y2="792.80" stroke="#000" stroke-width="1.52" stroke-linecap="round"/>
<rect x="702.70" y="845.00" width="12.40" height="245.30" fill="#ffffff"/>
<path d="M703.43,845.00V1090.30M714.38,845.00V1090.30" fill="none" stroke="#000" stroke-width="1.45" stroke-linejoin="round"/>
<rect x="719.35" y="810.80" width="12.40" height="12.00" fill="#d6d6d6"/>
<path d="M720.08,822.80V811.52H731.02V822.80" fill="none" stroke="#000" stroke-width="1.45" stroke-linejoin="round"/>
<rect x="719.35" y="845.00" width="12.40" height="245.30" fill="#d6d6d6"/>
<path d="M720.08,845.00V1090.30M731.02,845.00V1090.30" fill="none" stroke="#000" stroke-width="1.45" stroke-linejoin="round"/>
<rect x="736.00" y="754.90" width="12.40" height="67.90" fill="#a0a0a0"/>
<path d="M736.73,822.80V755.62H747.67V822.80" fill="none" stroke="#000" stroke-width="1.45" stroke-linejoin="round"/>
<line x1="742.20" y1="755.40" x2="742.20" y2="749.40" stroke="#000" stroke-width="1.25" stroke-linecap="butt"/>
<line x1="741.30" y1="749.40" x2="743.10" y2="749.40" stroke="#000" stroke-width="1.52" stroke-linecap="round"/>
<rect x="736.00" y="845.00" width="12.40" height="245.30" fill="#a0a0a0"/>
<path d="M736.73,845.00V1090.30M747.67,845.00V1090.30" fill="none" stroke="#000" stroke-width="1.45" stroke-linejoin="round"/>
<rect x="752.65" y="730.70" width="12.40" height="92.10" fill="#636363"/>
<path d="M753.38,822.80V731.43H764.33V822.80" fill="none" stroke="#000" stroke-width="1.45" stroke-linejoin="round"/>
<line x1="758.85" y1="731.20" x2="758.85" y2="705.10" stroke="#000" stroke-width="1.25" stroke-linecap="butt"/>
<line x1="757.95" y1="705.10" x2="759.75" y2="705.10" stroke="#000" stroke-width="1.52" stroke-linecap="round"/>
<rect x="752.65" y="845.00" width="12.40" height="245.30" fill="#636363"/>
<path d="M753.38,845.00V1090.30M764.33,845.00V1090.30" fill="none" stroke="#000" stroke-width="1.45" stroke-linejoin="round"/>
<rect x="769.30" y="747.60" width="12.40" height="75.20" fill="#000000"/>
<path d="M770.03,822.80V748.33H780.98V822.80" fill="none" stroke="#000" stroke-width="1.45" stroke-linejoin="round"/>
<line x1="775.50" y1="748.10" x2="775.50" y2="741.20" stroke="#000" stroke-width="1.25" stroke-linecap="butt"/>
<line x1="774.60" y1="741.20" x2="776.40" y2="741.20" stroke="#000" stroke-width="1.52" stroke-linecap="round"/>
<rect x="769.30" y="845.00" width="12.40" height="245.30" fill="#000000"/>
<path d="M770.03,845.00V1090.30M780.98,845.00V1090.30" fill="none" stroke="#000" stroke-width="1.45" stroke-linejoin="round"/>
<line x1="742.00" y1="1090.30" x2="742.00" y2="1100.60" stroke="#000" stroke-width="1.9" stroke-linecap="butt"/>
<text x="0" y="0" font-size="24.5" text-anchor="end" transform="translate(747.70,1117.80) rotate(-45)">IFN-γ</text>
<path d="M615.50,743.40V738.00H679.30V743.40" fill="none" stroke="#2a2a2a" stroke-width="1.5" stroke-linejoin="round"/>
<path d="M638.60,731.40L638.60,728.75M638.60,731.40L641.12,730.58M638.60,731.40L640.16,733.54M638.60,731.40L637.04,733.54M638.60,731.40L636.08,730.58" stroke="#111" stroke-width="1.0" stroke-linecap="round" fill="none"/>
<path d="M646.40,731.40L646.40,728.75M646.40,731.40L648.92,730.58M646.40,731.40L647.96,733.54M646.40,731.40L644.84,733.54M646.40,731.40L643.88,730.58" stroke="#111" stroke-width="1.0" stroke-linecap="round" fill="none"/>
<path d="M654.20,731.40L654.20,728.75M654.20,731.40L656.72,730.58M654.20,731.40L655.76,733.54M654.20,731.40L652.64,733.54M654.20,731.40L651.68,730.58" stroke="#111" stroke-width="1.0" stroke-linecap="round" fill="none"/>
<path d="M615.00,760.30V753.10H647.00V760.30" fill="none" stroke="#2a2a2a" stroke-width="1.5" stroke-linejoin="round"/>
<path d="M628.65,748.00L628.65,745.35M628.65,748.00L631.17,747.18M628.65,748.00L630.21,750.14M628.65,748.00L627.09,750.14M628.65,748.00L626.13,747.18" stroke="#111" stroke-width="1.0" stroke-linecap="round" fill="none"/>
<path d="M636.45,748.00L636.45,745.35M636.45,748.00L638.97,747.18M636.45,748.00L638.01,750.14M636.45,748.00L634.89,750.14M636.45,748.00L633.93,747.18" stroke="#111" stroke-width="1.0" stroke-linecap="round" fill="none"/>
<path d="M646.00,780.70V774.30H664.50V780.70" fill="none" stroke="#2a2a2a" stroke-width="1.5" stroke-linejoin="round"/>
<path d="M647.50,768.20L647.50,765.55M647.50,768.20L650.02,767.38M647.50,768.20L649.06,770.34M647.50,768.20L645.94,770.34M647.50,768.20L644.98,767.38" stroke="#111" stroke-width="1.0" stroke-linecap="round" fill="none"/>
<path d="M655.30,768.20L655.30,765.55M655.30,768.20L657.82,767.38M655.30,768.20L656.86,770.34M655.30,768.20L653.74,770.34M655.30,768.20L652.78,767.38" stroke="#111" stroke-width="1.0" stroke-linecap="round" fill="none"/>
<path d="M663.10,768.20L663.10,765.55M663.10,768.20L665.62,767.38M663.10,768.20L664.66,770.34M663.10,768.20L661.54,770.34M663.10,768.20L660.58,767.38" stroke="#111" stroke-width="1.0" stroke-linecap="round" fill="none"/>
<path d="M664.00,803.20V796.00H678.50V803.20" fill="none" stroke="#2a2a2a" stroke-width="1.5" stroke-linejoin="round"/>
<path d="M671.25,789.40L671.25,786.75M671.25,789.40L673.77,788.58M671.25,789.40L672.81,791.54M671.25,789.40L669.69,791.54M671.25,789.40L668.73,788.58" stroke="#111" stroke-width="1.0" stroke-linecap="round" fill="none"/>
<path d="M710.50,685.50V679.40H775.50V685.50" fill="none" stroke="#2a2a2a" stroke-width="1.5" stroke-linejoin="round"/>
<path d="M736.50,672.30L736.50,669.65M736.50,672.30L739.02,671.48M736.50,672.30L738.06,674.44M736.50,672.30L734.94,674.44M736.50,672.30L733.98,671.48" stroke="#111" stroke-width="1.0" stroke-linecap="round" fill="none"/>
<path d="M744.30,672.30L744.30,669.65M744.30,672.30L746.82,671.48M744.30,672.30L745.86,674.44M744.30,672.30L742.74,674.44M744.30,672.30L741.78,671.48" stroke="#111" stroke-width="1.0" stroke-linecap="round" fill="none"/>
<path d="M752.10,672.30L752.10,669.65M752.10,672.30L754.62,671.48M752.10,672.30L753.66,674.44M752.10,672.30L750.54,674.44M752.10,672.30L749.58,671.48" stroke="#111" stroke-width="1.0" stroke-linecap="round" fill="none"/>
<path d="M710.50,700.80V694.80H758.00V700.80" fill="none" stroke="#2a2a2a" stroke-width="1.5" stroke-linejoin="round"/>
<path d="M729.05,688.30L729.05,685.65M729.05,688.30L731.57,687.48M729.05,688.30L730.61,690.44M729.05,688.30L727.49,690.44M729.05,688.30L726.53,687.48" stroke="#111" stroke-width="1.0" stroke-linecap="round" fill="none"/>
<path d="M736.85,688.30L736.85,685.65M736.85,688.30L739.37,687.48M736.85,688.30L738.41,690.44M736.85,688.30L735.29,690.44M736.85,688.30L734.33,687.48" stroke="#111" stroke-width="1.0" stroke-linecap="round" fill="none"/>
<path d="M744.65,688.30L744.65,685.65M744.65,688.30L747.17,687.48M744.65,688.30L746.21,690.44M744.65,688.30L743.09,690.44M744.65,688.30L742.13,687.48" stroke="#111" stroke-width="1.0" stroke-linecap="round" fill="none"/>
<path d="M709.00,742.60V736.40H743.00V742.60" fill="none" stroke="#2a2a2a" stroke-width="1.5" stroke-linejoin="round"/>
<path d="M719.50,729.30L719.50,726.65M719.50,729.30L722.02,728.48M719.50,729.30L721.06,731.44M719.50,729.30L717.94,731.44M719.50,729.30L716.98,728.48" stroke="#111" stroke-width="1.0" stroke-linecap="round" fill="none"/>
<path d="M727.30,729.30L727.30,726.65M727.30,729.30L729.82,728.48M727.30,729.30L728.86,731.44M727.30,729.30L725.74,731.44M727.30,729.30L724.78,728.48" stroke="#111" stroke-width="1.0" stroke-linecap="round" fill="none"/>
<path d="M735.10,729.30L735.10,726.65M735.10,729.30L737.62,728.48M735.10,729.30L736.66,731.44M735.10,729.30L733.54,731.44M735.10,729.30L732.58,728.48" stroke="#111" stroke-width="1.0" stroke-linecap="round" fill="none"/>
<path d="M707.50,787.70V783.80H727.50V787.70" fill="none" stroke="#2a2a2a" stroke-width="1.5" stroke-linejoin="round"/>
<path d="M714.95,776.50L714.95,773.85M714.95,776.50L717.47,775.68M714.95,776.50L716.51,778.64M714.95,776.50L713.39,778.64M714.95,776.50L712.43,775.68" stroke="#111" stroke-width="1.0" stroke-linecap="round" fill="none"/>
<path d="M722.75,776.50L722.75,773.85M722.75,776.50L725.27,775.68M722.75,776.50L724.31,778.64M722.75,776.50L721.19,778.64M722.75,776.50L720.23,775.68" stroke="#111" stroke-width="1.0" stroke-linecap="round" fill="none"/>
<text font-size="25" text-anchor="middle" transform="translate(25.8,882.5) rotate(-90)">Cytokines level - spleen</text>
<text font-size="25" text-anchor="middle" transform="translate(54.4,882.8) rotate(-90)">(pg/mL)</text>
<rect x="856.5" y="665.40" width="40" height="13.2" rx="0.6" fill="#ffffff" stroke="#000" stroke-width="1.4"/>
<text x="919.30" y="681.80" font-size="27" text-anchor="start" font-weight="normal" >Infected control</text>
<rect x="856.5" y="708.90" width="40" height="13.2" rx="0.6" fill="#d6d6d6" stroke="#000" stroke-width="1.4"/>
<text x="919.30" y="725.30" font-size="27" text-anchor="start" font-weight="normal" ><tspan letter-spacing="-0.33">Miltefosine 10 mg/kg</tspan></text>
<rect x="856.5" y="752.40" width="40" height="13.2" rx="0.6" fill="#a0a0a0" stroke="#000" stroke-width="1.4"/>
<text x="919.30" y="768.80" font-size="27" text-anchor="start" font-weight="normal" ><tspan font-style="italic">sc</tspan><tspan dx="-1.6" letter-spacing="-0.45">YCWPs</tspan></text>
<rect x="856.5" y="795.90" width="40" height="13.2" rx="0.6" fill="#636363" stroke="#000" stroke-width="1.4"/>
<text x="919.30" y="812.30" font-size="27" text-anchor="start" font-weight="normal" ><tspan font-style="italic">sc</tspan><tspan dx="-1.6" letter-spacing="-0.45">YCWPs</tspan> + T6</text>
<rect x="856.5" y="839.40" width="40" height="13.2" rx="0.6" fill="#000000" stroke="#000" stroke-width="1.4"/>
<text x="919.30" y="855.80" font-size="27" text-anchor="start" font-weight="normal" >T6</text>
</svg>
</body></html>
